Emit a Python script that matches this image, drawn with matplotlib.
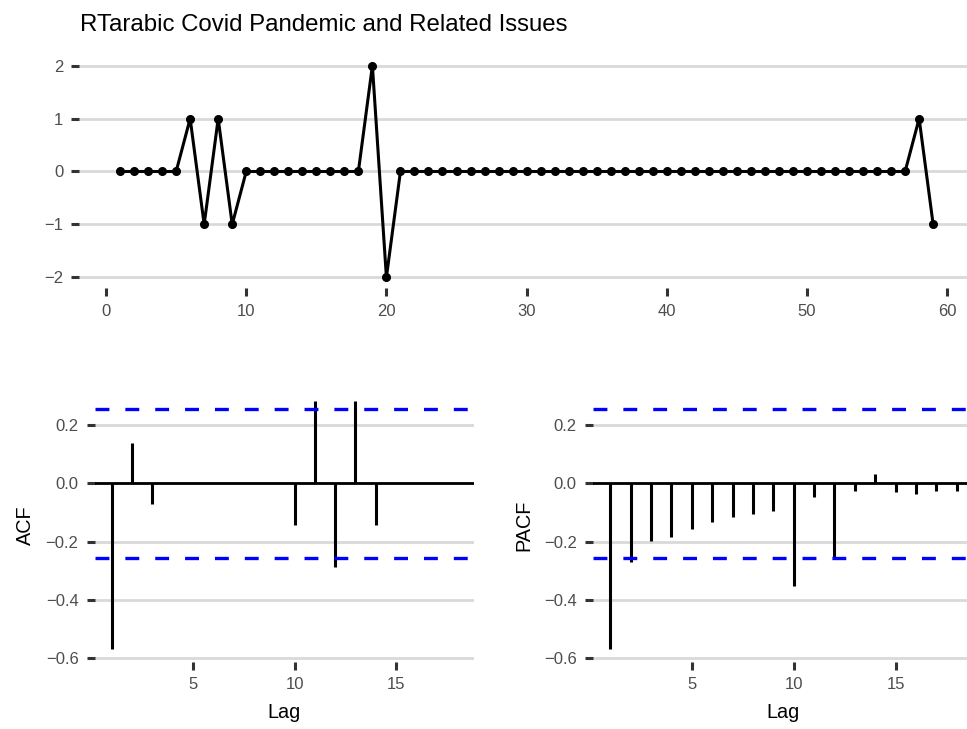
import matplotlib
matplotlib.use("Agg")
import matplotlib.pyplot as plt
import numpy as np

plt.rcParams['font.family'] = ['Liberation Sans', 'DejaVu Sans']
plt.rcParams['lines.scale_dashes'] = False

# ---- data ----
t = list(range(1, 60))
series = [0, 0, 0, 0, 0, 1, -1, 1, -1, 0,
          0, 0, 0, 0, 0, 0, 0, 0, 2, -2,
          0, 0, 0, 0, 0, 0, 0, 0, 0, 0,
          0, 0, 0, 0, 0, 0, 0, 0, 0, 0,
          0, 0, 0, 0, 0, 0, 0, 0, 0, 0,
          0, 0, 0, 0, 0, 0, 0, 1, -1]
lags = list(range(1, 19))
acf_vals = [-0.569, 0.140, -0.072, 0.0, 0.0, 0.0, 0.0, 0.0, 0.0, -0.143,
            0.283, -0.286, 0.283, -0.143, 0.0, 0.0, 0.0, 0.0]
pacf_vals = [-0.569, -0.271, -0.198, -0.183, -0.158, -0.134, -0.117, -0.105, -0.095, -0.353,
             -0.046, -0.252, -0.027, 0.032, -0.029, -0.038, -0.025, -0.026]
n_obs = 59
ci = 1.96 / np.sqrt(n_obs)
title = "RTarabic Covid Pandemic and Related Issues"

W, H = 967, 729
fig = plt.figure(figsize=(W / 100, H / 100), dpi=100)

def px_axes(left, top, right, bottom):
    return fig.add_axes([left / W, 1 - bottom / H, (right - left) / W, (bottom - top) / H])

GRID = '#d9d9d9'
TICK = '#333333'
TXT = '#4d4d4d'

def style(ax):
    for s in ax.spines.values():
        s.set_visible(False)
    ax.yaxis.grid(True, color=GRID, linewidth=2.0, zorder=0)
    ax.xaxis.grid(False)
    ax.set_axisbelow(True)
    ax.tick_params(axis='both', colors=TICK, length=6, width=2.2, labelsize=12,
                   labelcolor=TXT, pad=5.5)

# ---- top: time series ----
ax1 = px_axes(79.4, 55.1, 973.8, 287.9)
style(ax1)
ax1.plot(t, series, color='black', linewidth=2.2, marker='o', markersize=5.5, zorder=3)
ax1.set_xlim(-1.9, 61.9)
ax1.set_ylim(-2.2, 2.2)
ax1.set_xticks([0, 10, 20, 30, 40, 50, 60])
ax1.set_yticks([-2, -1, 0, 1, 2])
ax1.set_yticklabels(['\u22122', '\u22121', '0', '1', '2'])
fig.text(80 / W, 1 - 31 / H, title, fontsize=17.3, color='black', ha='left', va='baseline')

yt = [-0.6, -0.4, -0.2, 0.0, 0.2]
ytl = ['\u22120.6', '\u22120.4', '\u22120.2', '0.0', '0.2']

def corr_panel(left, right, vals, label):
    ax = px_axes(left, 388.4, right, 661.5)
    style(ax)
    ax.axhline(0, color='black', linewidth=2.0, zorder=2)
    ax.vlines(lags, 0, vals, color='black', linewidth=2.2, zorder=3)
    for c in (ci, -ci):
        ax.axhline(c, color='#0000ff', linewidth=2.4, dashes=(10, 11.5), zorder=4)
    ax.set_xlim(0.15, 18.85)
    ax.set_ylim(-0.612, 0.326)
    ax.set_xticks([5, 10, 15])
    ax.set_yticks(yt)
    ax.set_yticklabels(ytl)
    ax.set_xlabel('Lag', fontsize=14.3, color='black', labelpad=7.5)
    ax.set_ylabel(label, fontsize=14.3, color='black', labelpad=7.5)
    return ax

ax2 = corr_panel(94.5, 474.2, acf_vals, 'ACF')
ax3 = corr_panel(592.8, 974.2, pacf_vals, 'PACF')

fig.savefig('out.png', dpi=100)
